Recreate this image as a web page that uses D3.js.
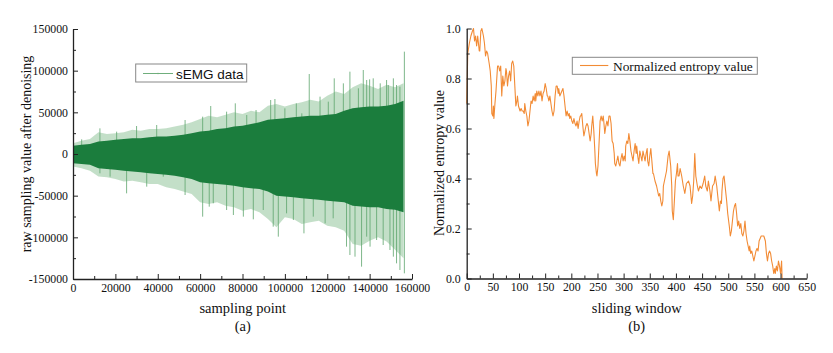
<!DOCTYPE html>
<html>
<head>
<meta charset="utf-8">
<script src="https://cdn.jsdelivr.net/npm/d3@7"></script>
<style>
  html, body { margin: 0; padding: 0; background: #fff; }
  svg { display: block; }
  .tick text { font-family: "Liberation Serif", "Times New Roman", serif; font-size: 11.8px; fill: #111; }
  .domain, .tick line { stroke: #222; }
</style>
</head>
<body>
<svg id="chart" width="833" height="353"></svg>
<script>
// ---------------- Panel (a): sEMG data ----------------
const semgX = [0,4000,8000,12000,16000,20000,24000,28000,32000,36000,40000,44000,48000,52000,56000,60000,64000,68000,72000,76000,80000,84000,88000,92000,96000,100000,104000,108000,112000,116000,120000,124000,128000,132000,136000,140000,144000,148000,152000,156000];
const semgCoreUpper = [10000,11000,12000,15000,16000,17000,18000,19000,19000,20000,21000,21000,22000,23000,25000,27000,28000,30000,31000,33000,34000,36000,38000,41000,42000,43000,44000,45000,46000,46000,47000,48000,52000,55000,56000,57000,57000,58000,60000,64000];
const semgCoreLower = [-11000,-12000,-13000,-17000,-18000,-19000,-20000,-21000,-22000,-23000,-24000,-25000,-26000,-28000,-30000,-34000,-35000,-36000,-37000,-38000,-40000,-41000,-42000,-45000,-50000,-51000,-52000,-53000,-54000,-55000,-56000,-57000,-58000,-62000,-63000,-64000,-64000,-66000,-67000,-70000];
const semgOuterUpper = [13000,16000,18000,26000,24000,25000,26000,29000,28000,30000,30000,31000,33000,35000,38000,42000,46000,44000,47000,50000,48000,52000,50000,58000,60000,57000,60000,62000,65000,63000,70000,75000,72000,80000,85000,82000,78000,83000,80000,85000];
const semgOuterLower = [-15000,-17000,-20000,-27000,-28000,-30000,-33000,-32000,-34000,-36000,-36000,-40000,-42000,-45000,-48000,-58000,-60000,-58000,-62000,-64000,-68000,-66000,-70000,-78000,-88000,-76000,-78000,-84000,-82000,-80000,-86000,-88000,-92000,-108000,-110000,-104000,-100000,-105000,-115000,-125000];
const spikeUpX = [4100,12700,20600,30000,39500,52900,61200,65000,72500,76600,82000,86400,93300,95300,100000,105400,108000,111500,116600,120500,123300,127600,130700,134700,137000,138600,140000,141700,145000,148000,148800,151200,152700,154300,156400];
const spikeUpV = [17600,30800,26800,33600,34800,40800,44800,57600,50800,60800,46800,52800,64800,66000,54800,60800,48800,96000,68800,62800,90800,84800,98800,78800,100800,88800,89600,90800,84800,88800,82800,90800,82800,80800,122800];
const spikeDownX = [12700,17500,25300,34800,42600,52900,61200,64300,66200,72500,75700,80400,85100,89800,94500,96900,100800,104000,109000,113400,119000,122800,129100,130700,133100,136200,138600,140200,143300,146400,149600,151200,152700,154300,156400];
const spikeDownV = [-23200,-27200,-47200,-39200,-27200,-49200,-75200,-63200,-59200,-67200,-73200,-75200,-78400,-67200,-87200,-99200,-71200,-79200,-95200,-75200,-83200,-77200,-111200,-121200,-123200,-135200,-99200,-111200,-103200,-109200,-115200,-123200,-131200,-139200,-143200];
const semgYTicks = [150000,100000,50000,0,-50000,-100000,-150000];
const semgXTicks = [0,20000,40000,60000,80000,100000,120000,140000,160000];

// ---------------- Panel (b): normalized entropy ----------------
const entropyWindow = [0,2,5,8,11,13,15,17,19,21,24,25,27,29,32,34,36,38,40,43,45,47,48,50,51,52,54,56,59,61,63,65,67,69,71,73,75,76,78,80,82,84,86,88,90,92,94,96,97,99,102,104,106,108,110,111,113,115,117,119,121,123,125,127,129,131,132,134,136,138,140,142,144,146,148,150,152,154,155,157,159,161,163,165,167,169,171,173,175,176,178,180,182,184,186,188,190,192,194,196,197,199,201,203,205,207,209,211,213,215,217,218,220,222,224,226,228,230,232,234,236,238,239,241,243,245,246,248,249,251,253,255,257,259,261,262,264,266,268,270,272,274,276,278,280,282,283,285,287,289,291,293,295,297,299,301,303,304,306,308,310,312,314,316,318,320,322,324,325,327,329,331,333,335,337,339,341,343,345,346,348,350,352,354,356,357,360,363,365,367,369,371,373,375,376,378,382,385,387,390,392,393,395,397,399,401,403,404,406,408,411,414,417,420,424,427,430,432,434,436,438,441,443,446,449,452,455,457,460,462,465,467,470,473,475,478,480,483,485,487,488,490,492,494,497,499,502,504,506,508,510,512,514,516,518,520,522,524,526,528,530,532,534,536,538,540,541,543,545,547,549,551,553,555,557,559,561,563,566,568,571,573,575,577,579,581,583,585,587,589,590,592,594,596,598,600,602,603];
const entropyValue = [0.70,0.90,0.94,0.97,0.99,1.00,0.95,0.97,0.93,0.97,0.91,0.91,0.99,1.00,0.97,0.94,0.89,0.91,0.90,0.86,0.83,0.77,0.66,0.65,0.69,0.64,0.70,0.75,0.85,0.85,0.83,0.85,0.73,0.81,0.77,0.79,0.84,0.83,0.77,0.81,0.83,0.79,0.86,0.87,0.85,0.77,0.69,0.71,0.73,0.69,0.67,0.68,0.67,0.67,0.66,0.70,0.67,0.65,0.61,0.63,0.67,0.71,0.70,0.73,0.71,0.74,0.71,0.75,0.73,0.75,0.73,0.75,0.71,0.74,0.75,0.78,0.76,0.73,0.73,0.71,0.73,0.70,0.67,0.65,0.67,0.73,0.77,0.77,0.74,0.76,0.73,0.74,0.75,0.76,0.73,0.69,0.65,0.67,0.65,0.66,0.64,0.65,0.63,0.62,0.64,0.62,0.61,0.63,0.60,0.63,0.65,0.65,0.66,0.61,0.57,0.59,0.61,0.62,0.61,0.58,0.55,0.58,0.61,0.65,0.59,0.51,0.46,0.42,0.41,0.45,0.54,0.63,0.65,0.63,0.65,0.63,0.58,0.61,0.63,0.61,0.65,0.65,0.62,0.55,0.54,0.50,0.46,0.45,0.47,0.49,0.46,0.45,0.48,0.50,0.47,0.49,0.47,0.53,0.55,0.54,0.58,0.55,0.51,0.49,0.47,0.51,0.54,0.50,0.53,0.49,0.46,0.51,0.49,0.47,0.51,0.49,0.47,0.50,0.52,0.47,0.45,0.49,0.52,0.47,0.42,0.42,0.39,0.37,0.35,0.33,0.34,0.31,0.29,0.31,0.37,0.39,0.43,0.49,0.51,0.45,0.37,0.27,0.235,0.31,0.39,0.42,0.46,0.41,0.41,0.44,0.41,0.37,0.34,0.38,0.39,0.37,0.30,0.33,0.39,0.50,0.41,0.37,0.35,0.37,0.36,0.38,0.41,0.37,0.35,0.39,0.35,0.31,0.37,0.38,0.41,0.37,0.33,0.27,0.31,0.30,0.35,0.40,0.41,0.37,0.31,0.26,0.21,0.17,0.19,0.23,0.27,0.29,0.30,0.26,0.21,0.23,0.20,0.22,0.18,0.17,0.19,0.23,0.18,0.15,0.13,0.11,0.13,0.10,0.11,0.09,0.07,0.09,0.11,0.12,0.11,0.15,0.16,0.17,0.17,0.17,0.15,0.10,0.07,0.10,0.11,0.10,0.07,0.05,0.02,0.04,0.02,0.05,0.03,0.07,0.05,0.02,0.07,0.00];
const entropyYTicks = [0,0.2,0.4,0.6,0.8,1.0];
const entropyXTicks = [0,50,100,150,200,250,300,350,400,450,500,550,600,650];

// ---------------- Drawing ----------------
const svg = d3.select("#chart");
const serif = '"Liberation Serif", "Times New Roman", serif';
const sans = '"Liberation Sans", Arial, sans-serif';

// Panel (a)
const xa = d3.scaleLinear().domain([0, 160000]).range([73, 412]);
const ya = d3.scaleLinear().domain([-150000, 150000]).range([279, 29]);
const ga = svg.append("g");

const semgRows = semgX.map((x, i) => ({x, cu: semgCoreUpper[i], cl: semgCoreLower[i], ou: semgOuterUpper[i], ol: semgOuterLower[i]}));

ga.append("path").datum(semgRows)
  .attr("d", d3.area().x(d => xa(d.x)).y0(d => ya(d.ol)).y1(d => ya(d.ou)))
  .attr("fill", "#a9d1b0").attr("opacity", 0.7);

ga.selectAll("line.su").data(spikeUpX).join("line").attr("class", "su")
  .attr("x1", d => xa(d)).attr("x2", d => xa(d))
  .attr("y1", ya(0)).attr("y2", (d, i) => ya(spikeUpV[i]))
  .attr("stroke", "#5da56c").attr("stroke-width", 0.8);
ga.selectAll("line.sd").data(spikeDownX).join("line").attr("class", "sd")
  .attr("x1", d => xa(d)).attr("x2", d => xa(d))
  .attr("y1", ya(0)).attr("y2", (d, i) => ya(spikeDownV[i]))
  .attr("stroke", "#5da56c").attr("stroke-width", 0.8);

ga.append("path").datum(semgRows)
  .attr("d", d3.area().x(d => xa(d.x)).y0(d => ya(d.cl)).y1(d => ya(d.cu)))
  .attr("fill", "#1b7d3d");

// axes (a)
ga.append("g").attr("transform", `translate(${xa(0)},0)`)
  .call(d3.axisLeft(ya).tickValues(semgYTicks).tickFormat(d => String(d)).tickSizeInner(-5).tickSizeOuter(0).tickPadding(5));
ga.append("g").attr("transform", `translate(${xa(0)},0)`)
  .call(d3.axisLeft(ya).tickValues(d3.range(-125000, 150000, 50000)).tickFormat("").tickSizeInner(-3).tickSizeOuter(0))
  .select(".domain").remove();
ga.append("g").attr("transform", `translate(0,${ya(-150000)})`)
  .call(d3.axisBottom(xa).tickValues(semgXTicks).tickFormat(d => String(d)).tickSizeInner(-5).tickSizeOuter(0).tickPadding(4.5));
ga.append("g").attr("transform", `translate(0,${ya(-150000)})`)
  .call(d3.axisBottom(xa).tickValues(d3.range(10000, 160000, 20000)).tickFormat("").tickSizeInner(-3).tickSizeOuter(0))
  .select(".domain").remove();

ga.append("text").attr("x", 242.7).attr("y", 313).attr("text-anchor", "middle")
  .attr("font-family", serif).attr("font-size", 14.5).attr("fill", "#111").text("sampling point");
ga.append("text").attr("x", 242.7).attr("y", 331).attr("text-anchor", "middle")
  .attr("font-family", serif).attr("font-size", 14.5).attr("fill", "#111").text("(a)");
ga.append("text").attr("transform", "translate(30.5,154) rotate(-90)").attr("text-anchor", "middle")
  .attr("font-family", serif).attr("font-size", 14).attr("fill", "#111").text("raw sampling value after denoising");

// legend (a)
ga.append("rect").attr("x", 135.7).attr("y", 64).attr("width", 111).attr("height", 18)
  .attr("fill", "#fff").attr("stroke", "#888").attr("stroke-width", 1);
ga.append("line").attr("x1", 143).attr("x2", 173).attr("y1", 73.5).attr("y2", 73.5)
  .attr("stroke", "#6fae7c").attr("stroke-width", 1);
ga.append("circle").attr("cx", 158).attr("cy", 73.5).attr("r", 0.8).attr("fill", "#6fae7c");
ga.append("text").attr("x", 176).attr("y", 78.5)
  .attr("font-family", sans).attr("font-size", 13.5).attr("fill", "#111").text("sEMG data");

// Panel (b)
const xb = d3.scaleLinear().domain([0, 650]).range([466.7, 806.7]);
const yb = d3.scaleLinear().domain([0, 1]).range([278.5, 28.5]);
const gb = svg.append("g");

gb.append("path").datum(entropyWindow.map((w, i) => [w, entropyValue[i]]))
  .attr("d", d3.line().x(d => xb(d[0])).y(d => yb(d[1])))
  .attr("fill", "none").attr("stroke", "#f28b35").attr("stroke-width", 1.1).attr("stroke-linejoin", "round");

gb.append("g").attr("transform", `translate(${xb(0)},0)`)
  .call(d3.axisLeft(yb).tickValues(entropyYTicks).tickFormat(d3.format(".1f")).tickSizeInner(-5).tickSizeOuter(0).tickPadding(6));
gb.append("g").attr("transform", `translate(${xb(0)},0)`)
  .call(d3.axisLeft(yb).tickValues(d3.range(0.1, 1.0, 0.2)).tickFormat("").tickSizeInner(-3).tickSizeOuter(0))
  .select(".domain").remove();
gb.append("g").attr("transform", `translate(0,${yb(0)})`)
  .call(d3.axisBottom(xb).tickValues(entropyXTicks).tickFormat(d => String(d)).tickSizeInner(-5).tickSizeOuter(0).tickPadding(4.5));
gb.append("g").attr("transform", `translate(0,${yb(0)})`)
  .call(d3.axisBottom(xb).tickValues(d3.range(25, 650, 50)).tickFormat("").tickSizeInner(-3).tickSizeOuter(0))
  .select(".domain").remove();

gb.append("text").attr("x", 636.7).attr("y", 313).attr("text-anchor", "middle")
  .attr("font-family", serif).attr("font-size", 14.5).attr("fill", "#111").text("sliding window");
gb.append("text").attr("x", 636.7).attr("y", 331).attr("text-anchor", "middle")
  .attr("font-family", serif).attr("font-size", 14.5).attr("fill", "#111").text("(b)");
gb.append("text").attr("transform", "translate(444,163) rotate(-90)").attr("text-anchor", "middle")
  .attr("font-family", serif).attr("font-size", 14).attr("fill", "#111").text("Normalized entropy value");

// legend (b)
gb.append("rect").attr("x", 572.3).attr("y", 57.3).attr("width", 185).attr("height", 17)
  .attr("fill", "#fff").attr("stroke", "#888").attr("stroke-width", 1);
gb.append("line").attr("x1", 580).attr("x2", 608.3).attr("y1", 65.5).attr("y2", 65.5)
  .attr("stroke", "#f28b35").attr("stroke-width", 1.1);
gb.append("text").attr("x", 613).attr("y", 70.5)
  .attr("font-family", serif).attr("font-size", 13.4).attr("fill", "#111").text("Normalized entropy value");

svg.selectAll(".domain").attr("stroke-width", 1.3);
</script>
</body>
</html>
